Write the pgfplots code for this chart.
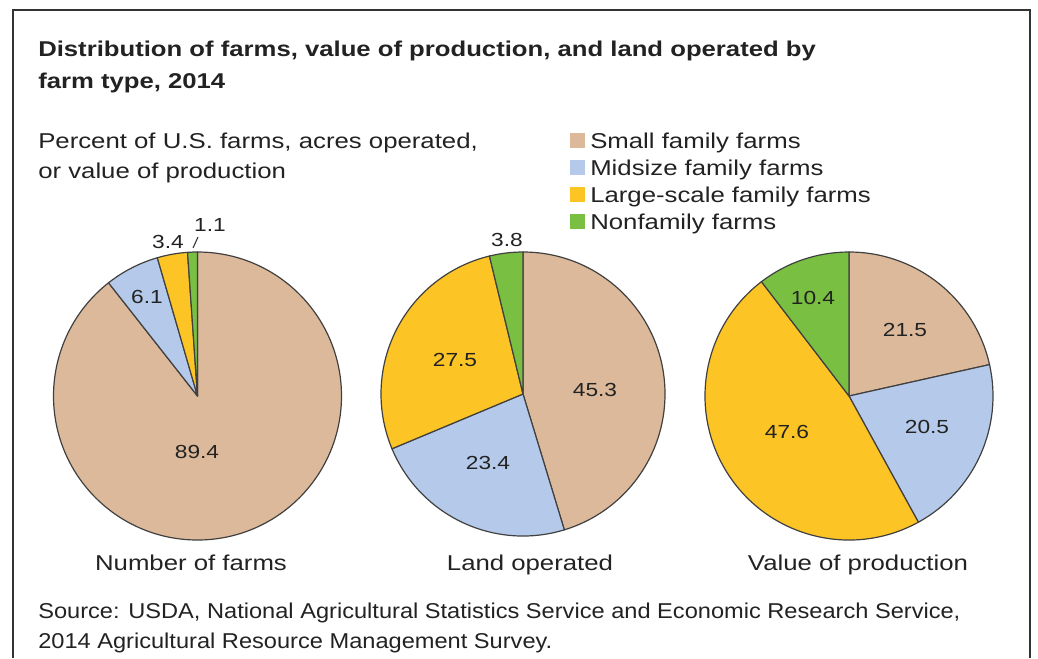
\documentclass[border=0pt]{standalone}
\usepackage{fontspec}
\setmainfont{Liberation Sans}[FakeStretch=1.2]
\newfontfamily\srcfont{Liberation Sans}[FakeStretch=1.1]
\usepackage{pgfplots}
\usepackage{pgfplotstable}
\pgfplotsset{compat=1.18}
\definecolor{smallC}{HTML}{DDB99B}
\definecolor{midC}{HTML}{B5CAEA}
\definecolor{largeC}{HTML}{FDC425}
\definecolor{nonC}{HTML}{79BF41}
\definecolor{txt}{HTML}{222222}

\pgfplotstableread{
type value color
Small 89.4 smallC
Midsize 6.1 midC
Large 3.4 largeC
Nonfamily 1.1 nonC
}\farms
\pgfplotstableread{
type value color
Small 45.3 smallC
Midsize 23.4 midC
Large 27.5 largeC
Nonfamily 3.8 nonC
}\land
\pgfplotstableread{
type value color
Small 21.5 smallC
Midsize 20.5 midC
Large 47.6 largeC
Nonfamily 10.4 nonC
}\prod

% #1 table, #2 cx, #3 cy, #4 radius (px)
\newcommand{\drawpie}[4]{%
  \pgfplotstablegetrowsof{#1}%
  \pgfmathtruncatemacro{\nrows}{\pgfplotsretval-1}%
  \def\cum{0}%
  \pgfplotsforeachungrouped \i in {0,...,\nrows}{%
    \pgfplotstablegetelem{\i}{value}\of{#1}\let\val\pgfplotsretval
    \pgfplotstablegetelem{\i}{color}\of{#1}\let\col\pgfplotsretval
    \pgfmathsetmacro{\sa}{90-3.6*\cum}%
    \pgfmathsetmacro{\ea}{90-3.6*(\cum+\val)}%
    \edef\tmp{\noexpand\filldraw[fill=\col,draw=black!75,line width=0.9pt,line join=round]
      (axis cs:#2,#3) -- ++(\sa:#4*0.75pt) arc[start angle=\sa,end angle=\ea,radius=#4*0.75pt] -- cycle;}%
    \tmp
    \pgfmathsetmacro{\cum}{\cum+\val}%
  }%
}

\begin{document}
\begin{tikzpicture}
\begin{axis}[
  scale only axis,
  width=778.5pt, height=493.5pt,
  xmin=0, xmax=1038, ymin=0, ymax=658,
  y dir=reverse,
  axis lines=none,
  clip=false,
]
\addplot[draw=none] coordinates {(0,0) (1038,658)};
\pgfplotsextra{%
  % frame
  \draw[line width=1.2pt, black!80] (axis cs:13,658) -- (axis cs:13,10) -- (axis cs:1030,10) -- (axis cs:1030,658);
  % pies
  \drawpie{\farms}{197.5}{396}{144}
  \drawpie{\land}{523}{394}{142}
  \drawpie{\prod}{849}{396}{144}
  % title
  \node[anchor=base west, inner sep=0pt, font=\fontsize{16.05pt}{20pt}\selectfont\bfseries, text=txt] at (axis cs:38,56) {Distribution of farms, value of production, and land operated by};
  \node[anchor=base west, inner sep=0pt, font=\fontsize{16.05pt}{20pt}\selectfont\bfseries, text=txt] at (axis cs:38,88) {farm type, 2014};
  % subtitle
  \node[anchor=base west, inner sep=0pt, font=\fontsize{16.1pt}{20pt}\selectfont, text=txt] at (axis cs:38,148) {Percent of U.S. farms, acres operated,};
  \node[anchor=base west, inner sep=0pt, font=\fontsize{16.1pt}{20pt}\selectfont, text=txt] at (axis cs:38,178) {or value of production};
  % legend
  \fill[smallC] (axis cs:570,133) rectangle (axis cs:585,148);
  \fill[midC] (axis cs:570,160) rectangle (axis cs:585,175);
  \fill[largeC] (axis cs:570,187) rectangle (axis cs:585,202);
  \fill[nonC] (axis cs:570,214) rectangle (axis cs:585,229);
  \node[anchor=base west, inner sep=0pt, font=\fontsize{16.1pt}{20pt}\selectfont, text=txt] at (axis cs:590,148) {Small family farms};
  \node[anchor=base west, inner sep=0pt, font=\fontsize{16.1pt}{20pt}\selectfont, text=txt] at (axis cs:590,175) {Midsize family farms};
  \node[anchor=base west, inner sep=0pt, font=\fontsize{16.1pt}{20pt}\selectfont, text=txt] at (axis cs:590,202) {Large-scale family farms};
  \node[anchor=base west, inner sep=0pt, font=\fontsize{16.1pt}{20pt}\selectfont, text=txt] at (axis cs:590,229) {Nonfamily farms};
  % slice labels
  \begin{scope}[every node/.style={inner sep=0pt, font=\fontsize{14.2pt}{16pt}\selectfont, text=txt}]
  \node at (axis cs:197,452) {89.4};
  \node at (axis cs:147,297) {6.1};
  \node at (axis cs:168,242) {3.4};
  \node at (axis cs:210,225) {1.1};
  \node at (axis cs:455,360) {27.5};
  \node at (axis cs:595,390) {45.3};
  \node at (axis cs:488,463) {23.4};
  \node at (axis cs:507,240) {3.8};
  \node at (axis cs:813,298) {10.4};
  \node at (axis cs:905,330) {21.5};
  \node at (axis cs:927,427) {20.5};
  \node at (axis cs:787,432) {47.6};
  \end{scope}
  \draw[black!80, line width=0.8pt] (axis cs:193,248) -- (axis cs:198,237);
  % captions
  \node[anchor=base, inner sep=0pt, font=\fontsize{16.1pt}{20pt}\selectfont, text=txt] at (axis cs:191,570) {Number of farms};
  \node[anchor=base, inner sep=0pt, font=\fontsize{16.1pt}{20pt}\selectfont, text=txt] at (axis cs:530,570) {Land operated};
  \node[anchor=base, inner sep=0pt, font=\fontsize{16.1pt}{20pt}\selectfont, text=txt] at (axis cs:858,570) {Value of production};
  % source
  \node[anchor=base west, inner sep=0pt, font=\srcfont\fontsize{16.1pt}{20pt}\selectfont, text=txt] at (axis cs:38,618) {Source: USDA, National Agricultural Statistics Service and Economic Research Service,};
  \node[anchor=base west, inner sep=0pt, font=\srcfont\fontsize{16.1pt}{20pt}\selectfont, text=txt] at (axis cs:38,648) {2014 Agricultural Resource Management Survey.};
}
\end{axis}
\pgfresetboundingbox
\path (0,0) rectangle (778.5pt,493.5pt);
\end{tikzpicture}
\end{document}
